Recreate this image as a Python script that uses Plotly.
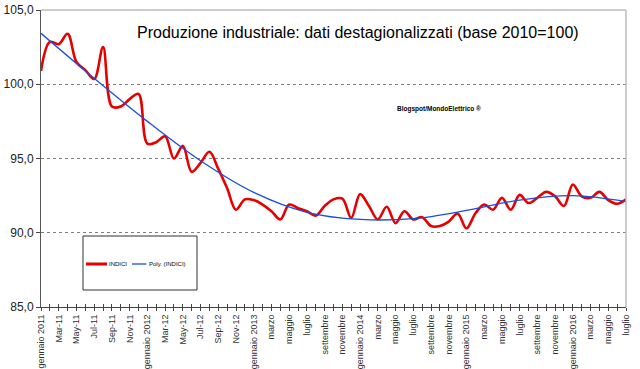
import plotly.graph_objects as go

# ---- data ----
month_index = list(range(67))  # gennaio 2011 ... luglio 2016

indici = [100.9, 102.85, 102.7, 103.4, 101.5, 100.95, 100.35, 102.5, 98.5, 98.5,
          99.0, 99.35, 96.0, 96.1, 96.5, 95.0, 95.85, 94.1, 94.7, 95.45,
          94.3, 93.0, 91.55, 92.25, 92.2, 91.9, 91.45, 90.9, 91.9, 91.65,
          91.45, 91.15, 91.8, 92.25, 92.3, 91.0, 92.6, 91.8, 90.9, 91.75,
          90.65, 91.45, 90.9, 91.05, 90.45, 90.45, 90.75, 91.3, 90.3, 91.3,
          91.9, 91.55, 92.35, 91.55, 92.55, 92.0, 92.35, 92.75, 92.45, 91.8,
          93.25, 92.45, 92.35, 92.75, 92.2, 91.95, 92.25]

trend_index = [0, 6, 12, 18, 24, 30, 36, 42, 48, 54, 60, 66]
trend_values = [103.43, 100.4, 97.5, 94.85, 92.72, 91.38, 90.9, 90.95, 91.5, 92.2, 92.5, 92.1]

tick_labels = ["gennaio 2011", "Mar-11", "May-11", "Jul-11", "Sep-11", "Nov-11",
               "gennaio 2012", "Mar-12", "May-12", "Jul-12", "Sep-12", "Nov-12",
               "gennaio 2013", "marzo", "maggio", "luglio", "settembre", "novembre",
               "gennaio 2014", "marzo", "maggio", "luglio", "settembre", "novembre",
               "gennaio 2015", "marzo", "maggio", "luglio", "settembre", "novembre",
               "gennaio 2016", "marzo", "maggio", "luglio"]

title_text = "Produzione industriale: dati destagionalizzati (base 2010=100)"
watermark = "Blogspot/MondoElettrico \u00ae"

# ---- build ----
tickvals = month_index
ticktext = [tick_labels[i // 2] if i % 2 == 0 else "" for i in month_index]

FONT = "Liberation Sans, Arial, sans-serif"
RED = "#e60000"
BLUE = "#1a4fdc"

fig = go.Figure()
fig.add_trace(go.Scatter(x=month_index, y=indici, mode="lines", name="INDICI",
                         line=dict(color=RED, width=2.6, shape="spline", smoothing=1.0),
                         showlegend=False))
fig.add_trace(go.Scatter(x=trend_index, y=trend_values, mode="lines", name="Poly. (INDICI)",
                         line=dict(color=BLUE, width=1.3, shape="spline", smoothing=1.0),
                         showlegend=False))
# empty trace to realise the second (inside-tick) axis
fig.add_trace(go.Scatter(x=[], y=[], xaxis="x2", showlegend=False, hoverinfo="skip"))

W, H = 640, 369
L, R, T, B = 41, 14, 10, 62
pw = W - L - R
ph = H - T - B

def px(x):
    return (x - L) / pw

def py(y):
    return (H - B - y) / ph

shapes = [
    # top and right light-grey border
    dict(type="line", xref="paper", yref="paper", x0=0, x1=1, y0=1, y1=1,
         line=dict(color="#bdbdbd", width=1.5)),
    dict(type="line", xref="paper", yref="paper", x0=1, x1=1, y0=0, y1=1,
         line=dict(color="#bdbdbd", width=1.5)),
    # legend box
    dict(type="rect", xref="paper", yref="paper", x0=px(83), x1=px(197), y0=py(290), y1=py(236),
         line=dict(color="#333333", width=1), fillcolor="white", layer="below"),
    dict(type="line", xref="paper", yref="paper", x0=px(86), x1=px(107), y0=py(264), y1=py(264),
         line=dict(color=RED, width=3)),
    dict(type="line", xref="paper", yref="paper", x0=px(132), x1=px(146.5), y0=py(264), y1=py(264),
         line=dict(color=BLUE, width=1.3)),
]

annotations = [
    dict(text=title_text, xref="paper", yref="paper", x=px(358), y=py(32),
         xanchor="center", yanchor="middle", showarrow=False,
         font=dict(family=FONT, size=16, color="#000000")),
    dict(text="<b>" + watermark + "</b>", xref="paper", yref="paper", x=px(439), y=py(109),
         xanchor="center", yanchor="middle", showarrow=False,
         font=dict(family=FONT, size=6.5, color="#000000")),
    dict(text="INDICI", xref="paper", yref="paper", x=px(107), y=py(264),
         xanchor="left", yanchor="middle", showarrow=False,
         font=dict(family=FONT, size=6, color="#000000")),
    dict(text="Poly. (INDICI)", xref="paper", yref="paper", x=px(146.5), y=py(264),
         xanchor="left", yanchor="middle", showarrow=False,
         font=dict(family=FONT, size=6, color="#000000")),
]

fig.update_layout(
    width=W, height=H,
    margin=dict(l=L, r=R, t=T, b=B, pad=0),
    paper_bgcolor="white", plot_bgcolor="white",
    separators=",.",
    font=dict(family=FONT, color="#222222"),
    shapes=shapes, annotations=annotations,
    xaxis=dict(range=[0, 66], tickmode="array", tickvals=tickvals, ticktext=ticktext,
               tickangle=-90, tickfont=dict(size=9, color="#333333"),
               ticks="outside", ticklen=3, tickcolor="#444444",
               showline=True, linecolor="#444444", linewidth=1,
               showgrid=False, zeroline=False, automargin=False, fixedrange=True),
    xaxis2=dict(overlaying="x", matches="x", anchor="y", side="bottom",
                tickmode="array", tickvals=tickvals, showticklabels=False,
                ticks="inside", ticklen=3, tickcolor="#444444",
                showline=False, showgrid=False, zeroline=False),
    yaxis=dict(range=[85, 105], tickmode="linear", tick0=85, dtick=5, tickformat=".1f",
               tickfont=dict(size=12, color="#222222"),
               ticks="outside", ticklen=4, tickcolor="#444444",
               showline=True, linecolor="#555555", linewidth=1,
               showgrid=True, gridcolor="#7f7f7f", gridwidth=1, griddash="3px,3px",
               zeroline=False, automargin=False, fixedrange=True),
)

# remove the browser's default 8px page margin so the figure sits at the window's corner
fig.write_html("out.html", config={"displayModeBar": False},
               post_script="document.body.style.margin='0';")
